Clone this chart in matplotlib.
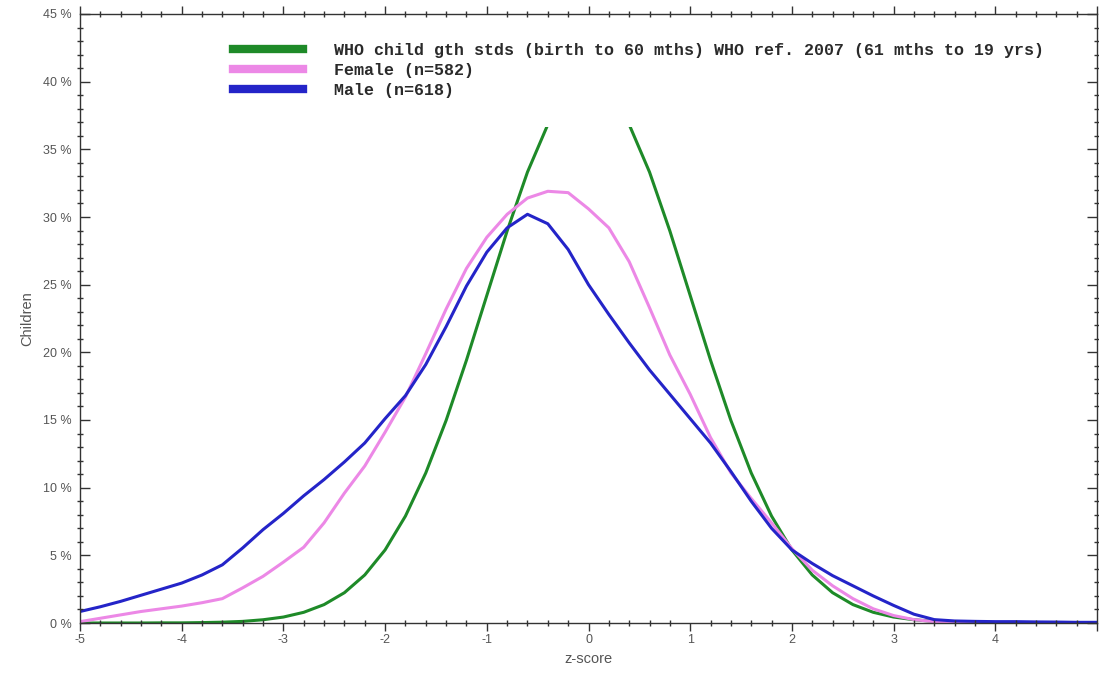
import numpy as np
import matplotlib
matplotlib.use("Agg")
import matplotlib.pyplot as plt
from matplotlib.ticker import MultipleLocator, FuncFormatter

plt.rcParams['axes.unicode_minus'] = False
plt.rcParams['font.family'] = ['Liberation Sans', 'DejaVu Sans']

# z-score grid (step 0.2) and % of children
z = np.round(np.arange(-5.0, 5.01, 0.2), 1)

who = [0.00, 0.00, 0.00, 0.00, 0.01, 0.01, 0.03, 0.06, 0.12, 0.24,
       0.44, 0.79, 1.36, 2.24, 3.55, 5.40, 7.90, 11.09, 14.97, 19.42,
       24.20, 28.97, 33.32, 36.83, 39.10, 39.89, 39.10, 36.83, 33.32, 28.97,
       24.20, 19.42, 14.97, 11.09, 7.90, 5.40, 3.55, 2.24, 1.36, 0.79,
       0.44, 0.24, 0.12, 0.06, 0.03, 0.01, 0.01, 0.00, 0.00, 0.00, 0.00]

female = [0.10, 0.35, 0.60, 0.85, 1.05, 1.25, 1.50, 1.80, 2.60, 3.45,
          4.50, 5.60, 7.40, 9.60, 11.6, 14.1, 16.7, 19.9, 23.2, 26.2,
          28.5, 30.2, 31.4, 31.9, 31.8, 30.6, 29.2, 26.7, 23.3, 19.8,
          16.9, 13.7, 11.1, 9.20, 7.40, 5.50, 3.90, 2.75, 1.80, 1.05,
          0.55, 0.25, 0.10, 0.05, 0.03, 0.02, 0.02, 0.02, 0.02, 0.02, 0.02]

male = [0.85, 1.20, 1.60, 2.05, 2.50, 2.95, 3.55, 4.30, 5.55, 6.90,
        8.10, 9.40, 10.6, 11.9, 13.3, 15.1, 16.8, 19.1, 21.9, 24.9,
        27.4, 29.2, 30.2, 29.5, 27.6, 25.0, 22.8, 20.7, 18.7, 16.9,
        15.1, 13.3, 11.2, 9.00, 7.00, 5.40, 4.40, 3.50, 2.75, 2.00,
        1.30, 0.65, 0.25, 0.15, 0.12, 0.10, 0.10, 0.08, 0.07, 0.05, 0.05]

labels = ["WHO child gth stds (birth to 60 mths) WHO ref. 2007 (61 mths to 19 yrs)",
          "Female (n=582)",
          "Male (n=618)"]
colors = ["#1e8a28", "#ec88e6", "#2424c8"]

fig = plt.figure(figsize=(10.99, 6.81), dpi=100)
ax = fig.add_axes([80 / 1099, 58 / 681, 1017 / 1099, 609 / 681])

ax.plot(z, who, color=colors[0], lw=2.2, label=labels[0])
ax.plot(z, female, color=colors[1], lw=2.2, label=labels[1])
ax.plot(z, male, color=colors[2], lw=2.2, label=labels[2])

ax.set_xlim(-5, 5)
ax.set_ylim(0, 45)
ax.xaxis.set_major_locator(MultipleLocator(1))
ax.xaxis.set_minor_locator(MultipleLocator(0.2))
ax.yaxis.set_major_locator(MultipleLocator(5))
ax.yaxis.set_minor_locator(MultipleLocator(1))
ax.yaxis.set_major_formatter(FuncFormatter(lambda v, p: "%d %%" % v))
# the last label (5) falls off the right edge in the original
ax.xaxis.set_major_formatter(FuncFormatter(lambda v, p: "" if v > 4.5 else "%d" % v))

grey = "#555555"
ax.tick_params(axis='x', which='major', direction='out', length=6, width=1,
               color='#333333', labelsize=9, labelcolor=grey, pad=2, top=True)
ax.tick_params(axis='x', which='minor', direction='inout', length=5, width=1,
               color='#333333', top=True)
ax.tick_params(axis='y', which='major', direction='in', length=7, width=1,
               color='#333333', labelsize=9, labelcolor=grey, pad=6, right=True)
ax.tick_params(axis='y', which='minor', direction='inout', length=5, width=1,
               color='#333333', right=True)
for s in ax.spines.values():
    s.set_color('#333333')
    s.set_linewidth(1.0)
    s.set_zorder(6)
ax.xaxis.set_zorder(6)
ax.yaxis.set_zorder(6)

ax.set_xlabel("z-score", fontsize=10.5, color=grey, labelpad=4)
ax.set_ylabel("Children", fontsize=10.5, color=grey, labelpad=6)

# white legend box hides the top of the WHO curve, as in the original
leg = ax.legend(loc='upper left', bbox_to_anchor=(205 / 1099, 1 - 15 / 681),
                bbox_transform=fig.transFigure, borderaxespad=0, borderpad=1.7,
                handlelength=4.2, handletextpad=1.85, labelspacing=0.3,
                frameon=True, facecolor='white', edgecolor='none', framealpha=1,
                fancybox=False,
                prop={'family': ['Liberation Mono', 'DejaVu Sans Mono'],
                      'weight': 'bold', 'size': 12})
for h in leg.legend_handles:
    h.set_linewidth(6)
for t in leg.get_texts():
    t.set_color('#2a2a2a')

fig.savefig("out.png", dpi=100, facecolor='white')
